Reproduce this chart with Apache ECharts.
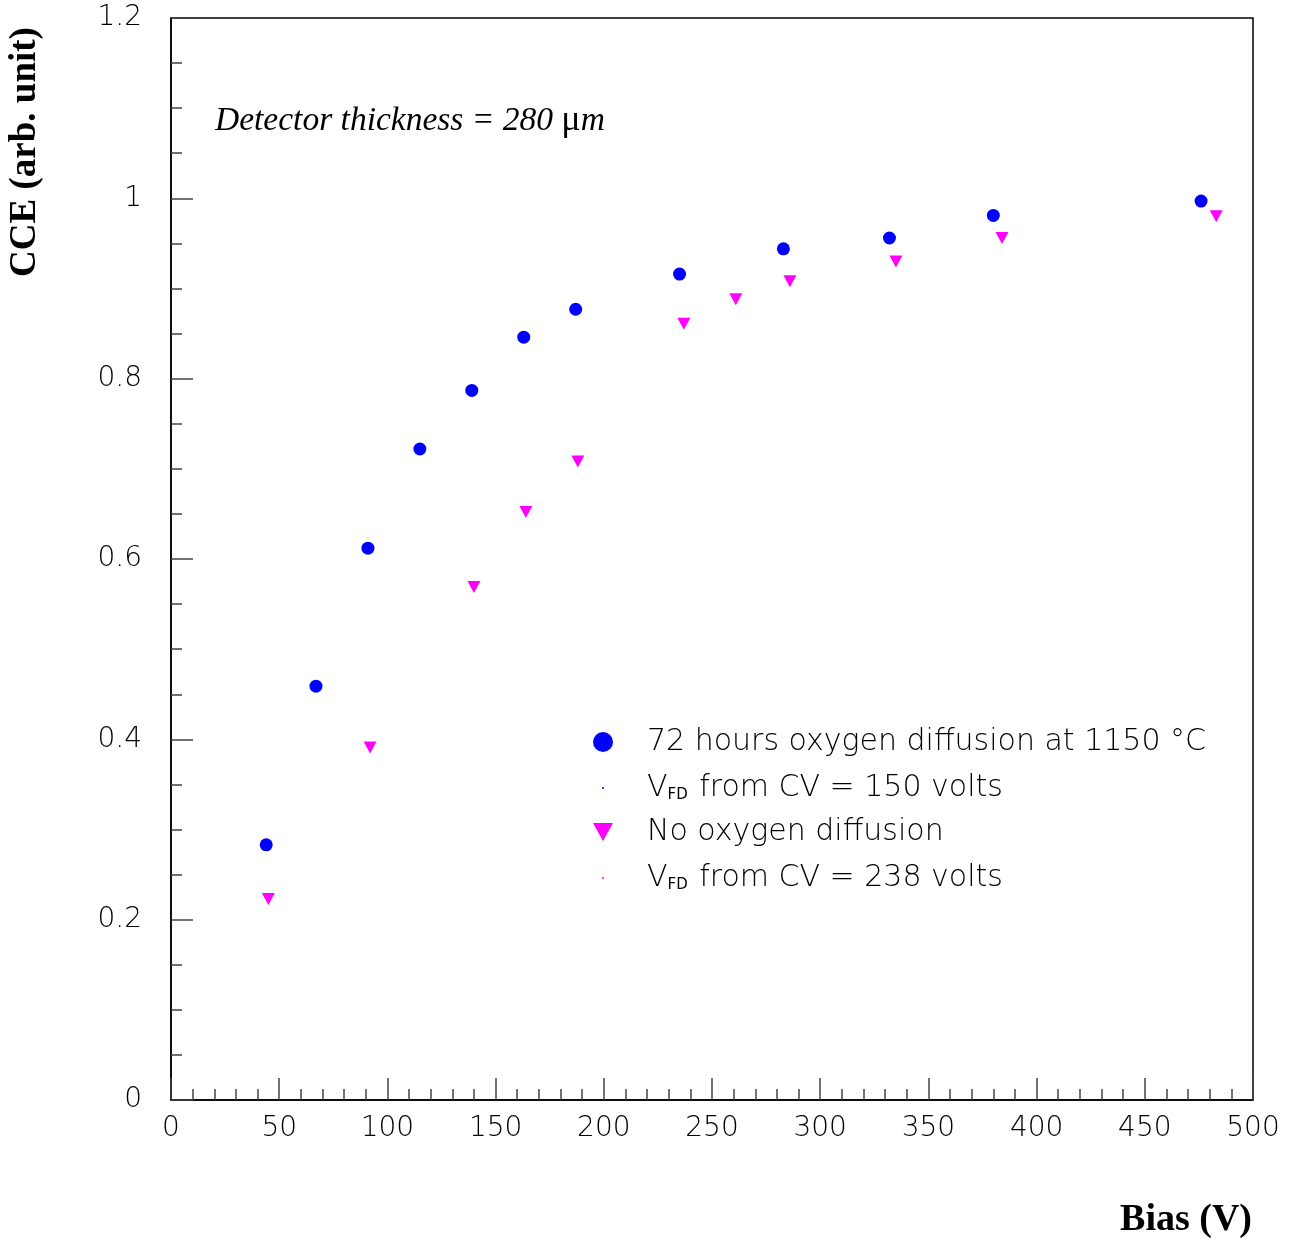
<!DOCTYPE html>
<html lang="en">
<head>
    <meta charset="UTF-8">
    <title>CCE vs Bias</title>
    <script src="https://cdn.jsdelivr.net/npm/echarts@6/dist/echarts.min.js"></script>
    <style>
        html, body { margin: 0; padding: 0; background: #fff; }
        #chart { width: 1290px; height: 1241px; }
    </style>
</head>
<body>
<div id="chart"></div>
<script>
// 72 hours oxygen diffusion at 1150 C
const biasOxy = [44, 67, 91, 115, 139, 163, 187, 235, 283, 332, 380, 476];
const cceOxy = [0.283, 0.459, 0.612, 0.722, 0.787, 0.846, 0.877, 0.916, 0.944, 0.956, 0.981, 0.997];
// No oxygen diffusion
const biasStd = [45, 92, 140, 164, 188, 237, 261, 286, 335, 384, 483];
const cceStd = [0.223, 0.391, 0.569, 0.652, 0.708, 0.861, 0.888, 0.908, 0.930, 0.956, 0.980];

const xTicks = [0, 50, 100, 150, 200, 250, 300, 350, 400, 450, 500];
const yTicks = [0, 0.2, 0.4, 0.6, 0.8, 1, 1.2];

const labelFont = 'DejaVu Sans';
const downTri = 'path://M0,0L2,0L1,1.8Z';

const chart = echarts.init(document.getElementById('chart'));

function legendBox(name, top, left, size, icon, gapPad) {
    return {
        data: [{ name: name, icon: icon }],
        left: left,
        top: top,
        orient: 'vertical',
        itemWidth: size,
        itemHeight: size,
        padding: 0,
        selectedMode: false,
        textStyle: {
            fontFamily: labelFont,
            fontWeight: 200,
            fontSize: 30,
            color: '#000',
            padding: [0, 0, 0, gapPad],
            rich: {
                v: { fontFamily: labelFont, fontWeight: 200, fontSize: 30, color: '#000' },
                sub: { fontFamily: labelFont, fontWeight: 'normal', fontSize: 15, color: '#000', verticalAlign: 'bottom', padding: [13, 2, 0, 0] },
                t: { fontFamily: labelFont, fontWeight: 200, fontSize: 30, color: '#000' }
            }
        },
        formatter: function (n) {
            if (n.indexOf('VFD') === 0) {
                return '{v|V}{sub|FD}{t|' + n.slice(3) + '}';
            }
            return n;
        }
    };
}

const option = {
    animation: false,
    backgroundColor: '#fff',
    grid: {
        left: 171, right: 37, top: 18, bottom: 141,
        show: true, borderColor: '#000', borderWidth: 1.5, backgroundColor: 'transparent'
    },
    xAxis: {
        type: 'value', min: 0, max: 500, interval: 50,
        axisLine: { show: true, onZero: false, lineStyle: { color: '#000', width: 1.5 } },
        axisTick: { show: true, inside: true, length: 22, lineStyle: { color: '#444', width: 1.5 } },
        minorTick: { show: true, splitNumber: 5, length: 11, lineStyle: { color: '#444', width: 1.5 } },
        splitLine: { show: false },
        axisLabel: {
            margin: 15, fontFamily: labelFont, fontWeight: 200, fontSize: 28, color: '#000',
            formatter: function (v) { return xTicks.indexOf(v) >= 0 ? String(v) : ''; }
        }
    },
    yAxis: {
        type: 'value', min: 0, max: 1.2, interval: 0.2,
        axisLine: { show: true, onZero: false, lineStyle: { color: '#000', width: 1.5 } },
        axisTick: { show: true, inside: true, length: 22, lineStyle: { color: '#444', width: 1.5 } },
        minorTick: { show: true, splitNumber: 4, length: 11, lineStyle: { color: '#444', width: 1.5 } },
        splitLine: { show: false },
        axisLabel: {
            margin: 29, fontFamily: labelFont, fontWeight: 200, fontSize: 28, color: '#000',
            formatter: function (v) {
                const t = yTicks.find(k => Math.abs(k - v) < 1e-6);
                return t === undefined ? '' : String(t);
            }
        }
    },
    legend: [
        legendBox('72 hours oxygen diffusion at 1150 °C', 727, 593, 20, 'circle', 29),
        legendBox('VFD from CV = 150 volts', 773, 602, 2, 'circle', 38),
        legendBox('No oxygen diffusion', 817, 593, 20, downTri, 29),
        legendBox('VFD from CV = 238 volts', 863, 602, 2, 'circle', 38)
    ],
    graphic: [
        {
            type: 'text', left: 215, top: 103,
            style: {
                text: '{i|Detector thickness = 280 }{u|μ}{i|m}',
                rich: {
                    i: { fontFamily: 'Liberation Serif', fontStyle: 'italic', fontSize: 33.5, fill: '#000' },
                    u: { fontFamily: 'Liberation Serif', fontSize: 36, fill: '#000' }
                }
            }
        },
        {
            type: 'text', x: 25, y: 152, rotation: Math.PI / 2,
            style: {
                text: 'CCE (arb. unit)', fontFamily: 'Liberation Serif', fontWeight: 'bold',
                fontSize: 37, fill: '#000', align: 'center', verticalAlign: 'middle'
            }
        },
        {
            type: 'text', x: 1252, y: 1220,
            style: {
                text: 'Bias (V)', fontFamily: 'Liberation Serif', fontWeight: 'bold',
                fontSize: 38, fill: '#000', align: 'right', verticalAlign: 'middle'
            }
        }
    ],
    series: [
        {
            name: '72 hours oxygen diffusion at 1150 °C', type: 'scatter',
            symbol: 'circle', symbolSize: 13,
            itemStyle: { color: '#0000ff', opacity: 1 },
            data: biasOxy.map((x, i) => [x, cceOxy[i]])
        },
        {
            name: 'VFD from CV = 150 volts', type: 'scatter',
            symbol: 'circle', symbolSize: 2,
            itemStyle: { color: '#0000ff', opacity: 1 },
            data: []
        },
        {
            name: 'No oxygen diffusion', type: 'scatter',
            symbol: downTri, symbolSize: [13, 12],
            itemStyle: { color: '#ff00ff', opacity: 1 },
            data: biasStd.map((x, i) => [x, cceStd[i]])
        },
        {
            name: 'VFD from CV = 238 volts', type: 'scatter',
            symbol: 'circle', symbolSize: 2,
            itemStyle: { color: '#ff00ff', opacity: 1 },
            data: []
        }
    ]
};

chart.setOption(option);
</script>
</body>
</html>
